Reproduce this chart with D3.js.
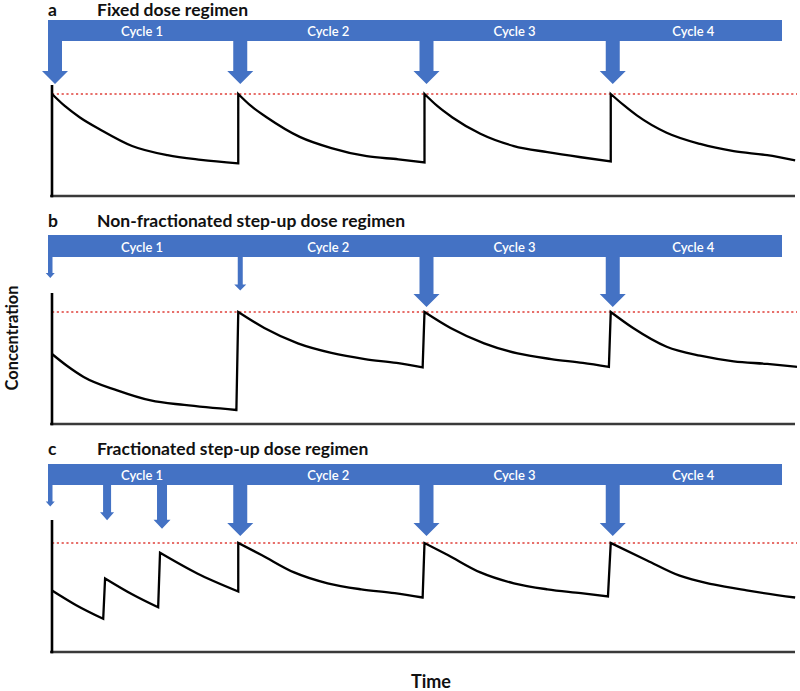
<!DOCTYPE html>
<html>
<head>
<meta charset="utf-8">
<script src="https://cdn.jsdelivr.net/npm/d3@7"></script>
<style>
  html, body { margin: 0; padding: 0; background: #fff; }
  svg { display: block; font-family: Lato, "Open Sans", sans-serif; }
</style>
</head>
<body>
<svg id="chart" width="800" height="691"></svg>
<script>
// ---------------- data ----------------
const cycleLabels = ["Cycle 1", "Cycle 2", "Cycle 3", "Cycle 4"];
const cycleStarts = [0, 1, 2, 3];
const timeEnd = 4;
const threshold = 1;

const panelLetters = ["a", "b", "c"];
const panelTitles = ["Fixed dose regimen", "Non-fractionated step-up dose regimen", "Fractionated step-up dose regimen"];

// dose timings (cycles) and relative dose sizes
const fixedDoseTimes = [0, 1, 2, 3];
const fixedDoseSizes = [1, 1, 1, 1];
const nonFracDoseTimes = [0, 1, 2, 3];
const nonFracDoseSizes = [0.1, 0.25, 1, 1];
const fracDoseTimes = [0, 0.285, 0.58, 1, 2, 3];
const fracDoseSizes = [0.1, 0.35, 0.6, 1, 1, 1];

// concentration profiles [time (cycles), concentration relative to threshold]
const fixedSegments = [
  [[0, 1.0], [0.07, 0.88], [0.15, 0.77], [0.26, 0.65], [0.43, 0.49], [0.62, 0.40], [0.80, 0.355], [1.0, 0.32]],
  [[1.0, 1.0], [1.07, 0.88], [1.15, 0.775], [1.33, 0.58], [1.50, 0.47], [1.69, 0.39], [1.86, 0.36], [2.0, 0.33]],
  [[2.0, 1.0], [2.07, 0.88], [2.15, 0.77], [2.30, 0.61], [2.48, 0.49], [2.66, 0.43], [2.84, 0.38], [3.0, 0.34]],
  [[3.0, 1.0], [3.07, 0.89], [3.14, 0.79], [3.30, 0.62], [3.48, 0.51], [3.66, 0.44], [3.84, 0.40], [3.99, 0.35]]
];
const nonFracSegments = [
  [[0, 0.625], [0.08, 0.52], [0.17, 0.42], [0.35, 0.30], [0.53, 0.21], [0.71, 0.17], [0.99, 0.125]],
  [[1.0, 1.0], [1.14, 0.857], [1.32, 0.72], [1.50, 0.635], [1.68, 0.58], [1.85, 0.545], [1.99, 0.505]],
  [[2.0, 1.0], [2.14, 0.857], [2.32, 0.72], [2.50, 0.63], [2.68, 0.58], [2.85, 0.545], [2.99, 0.51]],
  [[3.0, 1.0], [3.12, 0.857], [3.30, 0.69], [3.48, 0.61], [3.66, 0.56], [3.84, 0.536], [4.0, 0.51]]
];
const fracSegments = [
  [[0, 0.565], [0.13, 0.43], [0.275, 0.305]],
  [[0.285, 0.675], [0.43, 0.53], [0.57, 0.41]],
  [[0.58, 0.91], [0.78, 0.72], [1.0, 0.555]],
  [[1.0, 1.0], [1.125, 0.89], [1.30, 0.73], [1.48, 0.63], [1.66, 0.575], [1.84, 0.54], [1.99, 0.50]],
  [[2.0, 1.0], [2.125, 0.89], [2.30, 0.73], [2.48, 0.63], [2.66, 0.575], [2.84, 0.54], [2.985, 0.51]],
  [[3.0, 1.0], [3.195, 0.84], [3.37, 0.70], [3.55, 0.62], [3.73, 0.565], [3.99, 0.50]]
];

// ---------------- layout ----------------
const BLUE = "#4472C4";
const svg = d3.select("#chart");
svg.append("rect").attr("width", 800).attr("height", 691).attr("fill", "#fff");

const x = d3.scaleLinear().domain([0, timeEnd]).range([52, 797]);
const bannerLeft = 48, bannerRight = 782;

// arrow geometry as a function of dose
const doseDomain = [0.1, 0.25, 0.35, 0.6, 1];
const stemW = d3.scaleLinear().domain(doseDomain).range([4.5, 5, 8, 10, 14]);
const headW = d3.scaleLinear().domain(doseDomain).range([9, 12, 14, 17, 26]);
const headH = d3.scaleLinear().domain(doseDomain).range([5, 6, 8, 9, 13]);
const relLen = d3.scaleLinear().domain(doseDomain).range([0.42, 0.67, 0.69, 0.86, 1]);

const panels = [
  { letter: panelLetters[0], title: panelTitles[0], titleY: 16, bannerTop: 20, bannerH: 21, axisTop: 85, peakY: 94, baseY: 196, arrowLen: 43,
    segs: fixedSegments, doseTimes: fixedDoseTimes, doseSizes: fixedDoseSizes },
  { letter: panelLetters[1], title: panelTitles[1], titleY: 227, bannerTop: 235, bannerH: 22, axisTop: 293, peakY: 312, baseY: 424, arrowLen: 50,
    segs: nonFracSegments, doseTimes: nonFracDoseTimes, doseSizes: nonFracDoseSizes },
  { letter: panelLetters[2], title: panelTitles[2], titleY: 455, bannerTop: 464, bannerH: 21, axisTop: 520, peakY: 543, baseY: 652, arrowLen: 51,
    segs: fracSegments, doseTimes: fracDoseTimes, doseSizes: fracDoseSizes }
];

panels.forEach(p => {
  const g = svg.append("g");
  const y = d3.scaleLinear().domain([0, threshold]).range([p.baseY, p.peakY]);

  // titles
  g.append("text").attr("x", 48).attr("y", p.titleY)
    .attr("font-size", 17.5).attr("font-weight", 700).attr("fill", "#111").text(p.letter);
  g.append("text").attr("x", 97).attr("y", p.titleY)
    .attr("font-size", 17.5).attr("font-weight", 700).attr("fill", "#111").text(p.title);

  // banner
  g.append("rect").attr("x", bannerLeft).attr("y", p.bannerTop)
    .attr("width", bannerRight - bannerLeft).attr("height", p.bannerH).attr("fill", BLUE);

  // cycle labels
  cycleStarts.forEach((s, i) => {
    const x0 = x(s);
    const x1 = i < cycleStarts.length - 1 ? x(cycleStarts[i + 1]) : bannerRight;
    g.append("text").attr("x", (x0 + x1) / 2 - 3).attr("y", p.bannerTop + p.bannerH / 2 + 0.5)
      .attr("text-anchor", "middle").attr("dominant-baseline", "central")
      .attr("font-size", 13).attr("font-weight", 600).attr("fill", "#fff").text(cycleLabels[i]);
  });

  // dose arrows
  const bannerBottom = p.bannerTop + p.bannerH;
  p.doseTimes.forEach((t, i) => {
    const d = p.doseSizes[i];
    const sw = stemW(d), hw = headW(d), hh = headH(d);
    const cx = t === 0 ? bannerLeft + sw / 2 : x(t) + 2;
    const tip = bannerBottom + p.arrowLen * relLen(d);
    const top = bannerBottom - 1;
    const pts = [
      [cx - sw / 2, top], [cx + sw / 2, top], [cx + sw / 2, tip - hh], [cx + hw / 2, tip - hh],
      [cx, tip], [cx - hw / 2, tip - hh], [cx - sw / 2, tip - hh]
    ];
    g.append("path").attr("d", "M" + pts.map(q => q.join(",")).join("L") + "Z").attr("fill", BLUE);
  });

  // threshold line
  g.append("line").attr("x1", x(0)).attr("x2", x(timeEnd))
    .attr("y1", y(threshold)).attr("y2", y(threshold))
    .attr("stroke", "#e0403a").attr("stroke-width", 1.6).attr("stroke-dasharray", "2.2,2.6");

  // axes
  g.append("line").attr("x1", 50).attr("x2", 795).attr("y1", p.baseY).attr("y2", p.baseY)
    .attr("stroke", "#3a3a3a").attr("stroke-width", 2.6);
  g.append("line").attr("x1", x(0)).attr("x2", x(0)).attr("y1", p.axisTop).attr("y2", p.baseY + 1.3)
    .attr("stroke", "#000").attr("stroke-width", 2.6);

  // concentration curve
  const line = d3.line().x(d => x(d[0])).y(d => y(d[1])).curve(d3.curveMonotoneX);
  const dStr = p.segs.map((s, i) => {
    const str = line(s);
    return i === 0 ? str : str.replace(/^M/, "L");
  }).join("");
  g.append("path").attr("d", dStr).attr("fill", "none").attr("stroke", "#000")
    .attr("stroke-width", 2.3).attr("stroke-linejoin", "miter");
});

// axis titles
svg.append("text").attr("transform", "translate(17.5,338) rotate(-90)")
  .attr("text-anchor", "middle").attr("font-size", 16.5).attr("font-weight", 700).attr("fill", "#111")
  .text("Concentration");
svg.append("text").attr("x", 431).attr("y", 688)
  .attr("text-anchor", "middle").attr("font-size", 18).attr("font-weight", 700).attr("fill", "#111")
  .text("Time");
</script>
</body>
</html>
